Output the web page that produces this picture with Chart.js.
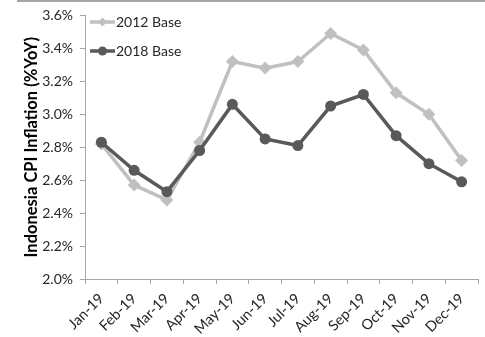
<!DOCTYPE html>
<html>
<head>
<meta charset="utf-8">
<script src="https://cdn.jsdelivr.net/npm/chart.js@4/dist/chart.umd.min.js"></script>
<style>
  html, body { margin: 0; padding: 0; background: #fff; }
  #wrap { position: relative; width: 485px; height: 337px; }
  #topbar { position: absolute; left: 17px; top: 0; width: 468px; height: 2px; background: #A6A6A6; }
  canvas { position: absolute; left: 0; top: 0; }
</style>
</head>
<body>
<div id="wrap">
  <canvas id="c" width="485" height="337"></canvas>
  <div id="topbar"></div>
</div>
<script>
const categories = ['Jan-19','Feb-19','Mar-19','Apr-19','May-19','Jun-19','Jul-19','Aug-19','Sep-19','Oct-19','Nov-19','Dec-19'];
const base2012 = [2.82, 2.57, 2.48, 2.83, 3.32, 3.28, 3.32, 3.49, 3.39, 3.13, 3.00, 2.72];
const base2018 = [2.83, 2.66, 2.53, 2.78, 3.06, 2.85, 2.81, 3.05, 3.12, 2.87, 2.70, 2.59];
const seriesNames = ['2012 Base', '2018 Base'];
const yTitle = 'Indonesia CPI Inflation (%YoY)';

const FONT = "Lato, 'Open Sans', 'DejaVu Sans', sans-serif";
const LIGHT = '#C0C0C0';
const DARK = '#595959';

const legendPlugin = {
  id: 'customLegend',
  afterDraw(chart) {
    const ctx = chart.ctx;
    const items = [
      { label: seriesNames[0], color: LIGHT, style: 'diamond', y: 22 },
      { label: seriesNames[1], color: DARK, style: 'circle', y: 51 }
    ];
    ctx.save();
    items.forEach(it => {
      ctx.strokeStyle = it.color;
      ctx.lineWidth = 3.5;
      ctx.beginPath();
      ctx.moveTo(90, it.y);
      ctx.lineTo(115, it.y);
      ctx.stroke();
      ctx.fillStyle = it.color;
      ctx.beginPath();
      if (it.style === 'diamond') {
        const r = 4.5;
        ctx.moveTo(102.5, it.y - r);
        ctx.lineTo(102.5 + r, it.y);
        ctx.lineTo(102.5, it.y + r);
        ctx.lineTo(102.5 - r, it.y);
        ctx.closePath();
      } else {
        ctx.arc(102.5, it.y, 4.5, 0, Math.PI * 2);
      }
      ctx.fill();
      ctx.fillStyle = '#262626';
      ctx.font = '14px ' + FONT;
      ctx.textBaseline = 'middle';
      ctx.textAlign = 'left';
      ctx.fillText(it.label, 116, it.y + 0.5);
    });
    ctx.restore();
  }
};

new Chart(document.getElementById('c'), {
  type: 'line',
  data: {
    labels: categories,
    datasets: [
      {
        label: seriesNames[0],
        data: base2012,
        borderColor: LIGHT,
        backgroundColor: LIGHT,
        borderWidth: 3.5,
        pointStyle: 'rectRot',
        pointRadius: 6.5,
        pointBorderWidth: 0,
        tension: 0,
        order: 1
      },
      {
        label: seriesNames[1],
        data: base2018,
        borderColor: DARK,
        backgroundColor: DARK,
        borderWidth: 3.5,
        pointStyle: 'circle',
        pointRadius: 5.5,
        pointBorderWidth: 0,
        tension: 0,
        order: 0
      }
    ]
  },
  options: {
    responsive: false,
    animation: false,
    devicePixelRatio: 1,
    layout: { padding: { top: 14, right: 7, left: 0, bottom: 0 } },
    plugins: {
      legend: { display: false },
      tooltip: { enabled: false }
    },
    scales: {
      x: {
        offset: true,
        grid: {
          offset: true,
          drawOnChartArea: false,
          drawTicks: true,
          tickLength: 5,
          color: '#A6A6A6'
        },
        border: { color: '#A6A6A6', width: 1 },
        ticks: {
          autoSkip: false,
          maxRotation: 45,
          minRotation: 45,
          color: '#262626',
          font: { family: FONT, size: 14.5 },
          padding: 6
        },
        afterFit(scale) { scale.height = 58; }
      },
      y: {
        min: 2.0,
        max: 3.6,
        grid: {
          drawOnChartArea: false,
          drawTicks: true,
          tickLength: 5,
          color: '#A6A6A6'
        },
        border: { color: '#A6A6A6', width: 1 },
        ticks: {
          stepSize: 0.2,
          color: '#262626',
          font: { family: FONT, size: 14 },
          padding: 7,
          callback: v => v.toFixed(1) + '%'
        },
        title: {
          display: true,
          text: yTitle,
          color: '#000',
          font: { family: FONT, size: 16.5, weight: 'bold' },
          padding: { top: 22, bottom: 0 }
        },
        afterFit(scale) { scale.width = 85; }
      }
    }
  },
  plugins: [legendPlugin]
});
</script>
</body>
</html>
